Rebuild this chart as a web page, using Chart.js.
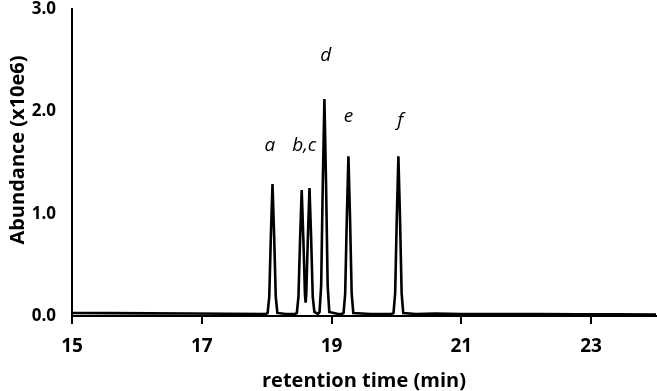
<!DOCTYPE html>
<html>
<head>
<meta charset="utf-8">
<script src="https://cdn.jsdelivr.net/npm/chart.js@4/dist/chart.umd.min.js"></script>
<style>
  body { margin: 0; background: #fff; }
  #wrap { width: 657px; height: 391px; }
</style>
</head>
<body>
<div id="wrap"><canvas id="chrom"></canvas></div>
<script>
// retention time (min) and abundance (x10e6)
var tiempo = [
  15.0, 15.6, 16.2, 16.8, 17.4, 17.99,
  18.015, 18.04, 18.065, 18.09, 18.115, 18.14, 18.165, 18.3,
  18.44, 18.465, 18.49, 18.515, 18.54, 18.565, 18.59, 18.60, 18.61, 18.635, 18.66, 18.685, 18.71, 18.735,
  18.79, 18.815, 18.84, 18.865, 18.89, 18.915, 18.94, 18.965,
  19.1, 19.16, 19.185, 19.21, 19.235, 19.26, 19.285, 19.31, 19.335,
  19.6, 19.93, 19.955, 19.98, 20.005, 20.03, 20.055, 20.08, 20.105,
  20.3, 20.6, 21.0, 21.6, 22.2, 22.8, 23.4, 24.0
];
var abundancia = [
  0.03, 0.028, 0.026, 0.024, 0.022, 0.02,
  0.03, 0.19, 0.79, 1.29, 0.79, 0.19, 0.03, 0.02,
  0.02, 0.03, 0.19, 0.75, 1.23, 0.76, 0.21, 0.13, 0.21, 0.77, 1.25, 0.77, 0.19, 0.04,
  0.02, 0.04, 0.3, 1.3, 2.12, 1.3, 0.3, 0.04,
  0.02, 0.02, 0.03, 0.22, 0.95, 1.56, 0.95, 0.22, 0.03,
  0.02, 0.02, 0.03, 0.22, 0.95, 1.56, 0.95, 0.22, 0.03,
  0.02, 0.025, 0.02, 0.018, 0.018, 0.016, 0.016, 0.015
];

// peak letters and where they sit (data units)
var picos = ["a", "b,c", "d", "e", "f"];
var picos_x = [18.05, 18.58, 18.91, 19.26, 20.06];
var picos_y = [1.67, 1.67, 2.54, 1.95, 1.91];

var ticks_x = [15, 17, 19, 21, 23];
var ticks_y = [0, 1, 2, 3];

var puntos = [];
for (let i = 0; i < tiempo.length; i++) {
  puntos.push({ x: tiempo[i], y: abundancia[i] });
}

// draws the italic peak letters and the y axis title
var etiquetas = {
  id: "etiquetas",
  afterDatasetsDraw(chart) {
    var ctx = chart.ctx;
    var sx = chart.scales.x;
    var sy = chart.scales.y;
    ctx.save();
    ctx.font = "italic 19px 'Open Sans', sans-serif";
    ctx.fillStyle = "#000";
    ctx.textAlign = "center";
    ctx.textBaseline = "middle";
    for (let i = 0; i < picos.length; i++) {
      ctx.fillText(picos[i], sx.getPixelForValue(picos_x[i]), sy.getPixelForValue(picos_y[i]));
    }
    ctx.translate(18, 150);
    ctx.rotate(-Math.PI / 2);
    ctx.font = "bold 20px 'Open Sans', sans-serif";
    ctx.fillText("Abundance (x10e6)", 0, 0);
    ctx.restore();
  },
};

var ctx = document.getElementById("chrom").getContext("2d");

var myChart = new Chart(ctx, {
  type: "scatter",
  data: {
    datasets: [
      {
        data: puntos,
        showLine: true,
        borderColor: "#000",
        borderWidth: 2.6,
        pointRadius: 0,
        tension: 0,
      },
    ],
  },
  options: {
    responsive: true,
    maintainAspectRatio: false,
    animation: false,
    layout: { padding: { top: 0, right: 1, left: 0, bottom: 0 } },
    scales: {
      x: {
        type: "linear",
        min: 15,
        max: 24,
        afterBuildTicks: (axis) => {
          axis.ticks = ticks_x.map((v) => ({ value: v }));
        },
        afterFit: (axis) => {
          axis.height = 75;
        },
        grid: {
          display: true,
          drawOnChartArea: false,
          drawTicks: true,
          tickLength: 8,
          color: "#000",
          lineWidth: 2,
        },
        border: { color: "#000", width: 2 },
        ticks: {
          color: "#000",
          padding: 11,
          maxRotation: 0,
          font: { family: "'Open Sans', sans-serif", size: 19, weight: "bold" },
        },
        title: {
          display: true,
          text: "retention time (min)",
          color: "#000",
          padding: 0,
          font: { family: "'Open Sans', sans-serif", size: 20, weight: "bold", lineHeight: 1.0 },
        },
      },
      y: {
        min: 0,
        max: 3,
        afterBuildTicks: (axis) => {
          axis.ticks = ticks_y.map((v) => ({ value: v }));
        },
        afterFit: (axis) => {
          axis.width = 72;
          axis.paddingTop = 9;
          axis.paddingBottom = 0;
        },
        grid: { display: false, drawTicks: false },
        border: { color: "#000", width: 2 },
        ticks: {
          color: "#000",
          padding: 16,
          callback: (v) => v.toFixed(1),
          font: { family: "'Open Sans', sans-serif", size: 17, weight: "bold" },
        },
        title: { display: false },
      },
    },
    plugins: {
      legend: { display: false },
      tooltip: { enabled: false },
    },
  },
  plugins: [etiquetas],
});
</script>
</body>
</html>
